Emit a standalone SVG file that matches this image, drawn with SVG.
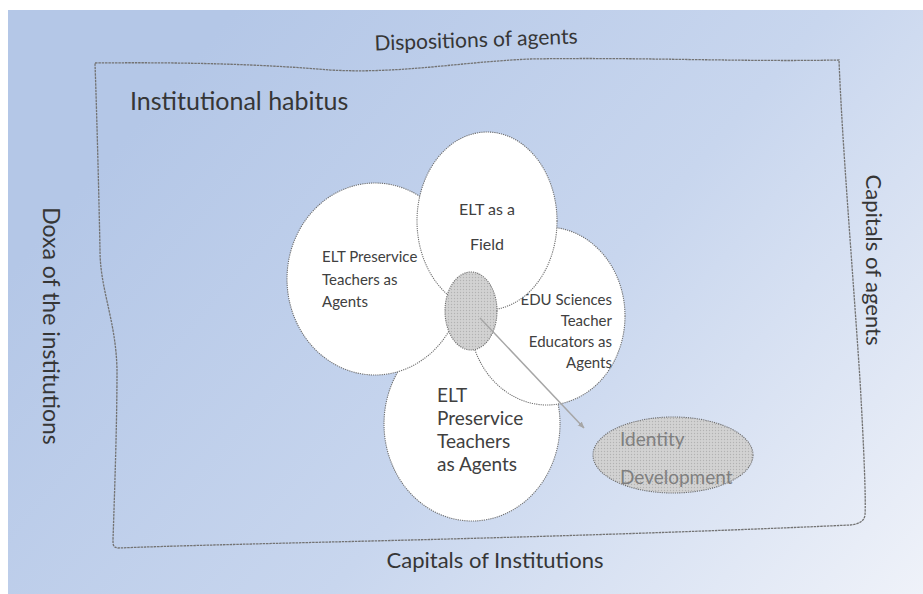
<svg xmlns="http://www.w3.org/2000/svg" width="923" height="594" viewBox="0 0 923 594">
  <defs>
    <linearGradient id="bg" x1="0" y1="0.45" x2="1" y2="1">
      <stop offset="0" stop-color="#b4c7e7"/>
      <stop offset="0.5" stop-color="#c8d6ee"/>
      <stop offset="1" stop-color="#eff2f9"/>
    </linearGradient>
    <pattern id="dots" width="3" height="3" patternUnits="userSpaceOnUse">
      <rect width="3" height="3" fill="#d2d2d2"/>
      <circle cx="1.5" cy="1.5" r="0.7" fill="#b2b2b2"/>
    </pattern>
    <marker id="arrow" viewBox="0 0 10 10" refX="9" refY="5" markerWidth="7" markerHeight="7" orient="auto" markerUnits="userSpaceOnUse">
      <path d="M0,1 L10,5 L0,9 z" fill="#a6a6a6"/>
    </marker>
  </defs>
  <style>
    .lbl { font-family: Lato, "Open Sans", "Liberation Sans", sans-serif; fill: #363636; }
    .in { font-family: Lato, "Open Sans", "Liberation Sans", sans-serif; fill: #404040; }
    .bubble { fill: #ffffff; stroke: #6f6f6f; stroke-width: 1.1; stroke-dasharray: 1.2 1; }
    .core { fill: url(#dots); stroke: #6f6f6f; stroke-width: 1.1; stroke-dasharray: 1.2 1; }
    .frame { fill: none; stroke: #737373; stroke-width: 1.3; stroke-dasharray: 2.5 0.8; }
  </style>

  <!-- slide background -->
  <rect x="8" y="10" width="915" height="584" fill="url(#bg)"/>

  <!-- hand-drawn field boundary -->
  <g id="frame">
    <path class="frame" d="M95,63 C180,62 260,64 330,70 C400,74 460,62 530,59 C640,57 740,62 839,60 C842,140 852,260 860,380 C864,450 866,500 865,515 C864,522 858,524 850,525 C700,532 500,538 330,542 C250,544 170,546 118,548 C113,547 113,545 113,540 C115,480 117,420 117,370 C116,320 100,290 100,250 C99,200 97,120 95,63 Z"/>
  </g>

  <!-- outer labels -->
  <g id="dispositions"><text class="lbl" x="476" y="47" font-size="21" text-anchor="middle" transform="rotate(-2 476 40)">Dispositions of agents</text></g>
  <g id="habitus"><text class="lbl" x="130" y="110" font-size="25">Institutional habitus</text></g>
  <g id="doxa"><text class="lbl" x="326" y="-43" font-size="23" text-anchor="middle" transform="rotate(90)">Doxa of the institutions</text></g>
  <g id="capitals-agents"><text class="lbl" x="260" y="-866" font-size="22" text-anchor="middle" transform="rotate(90)">Capitals of agents</text></g>
  <g id="capitals-institutions"><text class="lbl" x="495" y="568" font-size="22" text-anchor="middle">Capitals of Institutions</text></g>

  <!-- overlapping bubbles -->
  <g id="elt-preservice-bottom">
    <ellipse class="bubble" cx="472" cy="424" rx="88" ry="97"/>
    <text class="in" font-size="19"><tspan x="437" y="402">ELT</tspan><tspan x="437" y="425">Preservice</tspan><tspan x="437" y="448">Teachers</tspan><tspan x="437" y="471">as Agents</tspan></text>
  </g>
  <g id="edu-sciences">
    <ellipse class="bubble" cx="547" cy="316" rx="78" ry="89"/>
    <text class="in" font-size="15" text-anchor="end"><tspan x="612" y="305">EDU Sciences</tspan><tspan x="612" y="326">Teacher</tspan><tspan x="612" y="347">Educators as</tspan><tspan x="612" y="368">Agents</tspan></text>
  </g>
  <g id="elt-preservice-left">
    <ellipse class="bubble" cx="375" cy="279" rx="88" ry="96"/>
    <text class="in" font-size="15"><tspan x="322" y="262">ELT Preservice</tspan><tspan x="322" y="285">Teachers as</tspan><tspan x="322" y="307">Agents</tspan></text>
  </g>
  <g id="elt-field">
    <ellipse class="bubble" cx="487" cy="221" rx="70" ry="89"/>
    <text class="in" font-size="16" text-anchor="middle"><tspan x="487" y="215">ELT as a</tspan><tspan x="487" y="250">Field</tspan></text>
  </g>
  <g id="core">
    <ellipse class="core" cx="471" cy="311" rx="26" ry="39"/>
  </g>

  <!-- connector -->
  <g id="connectors">
    <line x1="480" y1="318" x2="584" y2="428" stroke="#a6a6a6" stroke-width="1.5" marker-end="url(#arrow)"/>
  </g>

  <g id="identity-development">
    <ellipse class="core" cx="673" cy="455" rx="80" ry="38"/>
    <text font-family="Lato, 'Open Sans', 'Liberation Sans', sans-serif" font-size="19" fill="#7f7f7f"><tspan x="620" y="446">Identity</tspan><tspan x="620" y="484">Development</tspan></text>
  </g>
</svg>
